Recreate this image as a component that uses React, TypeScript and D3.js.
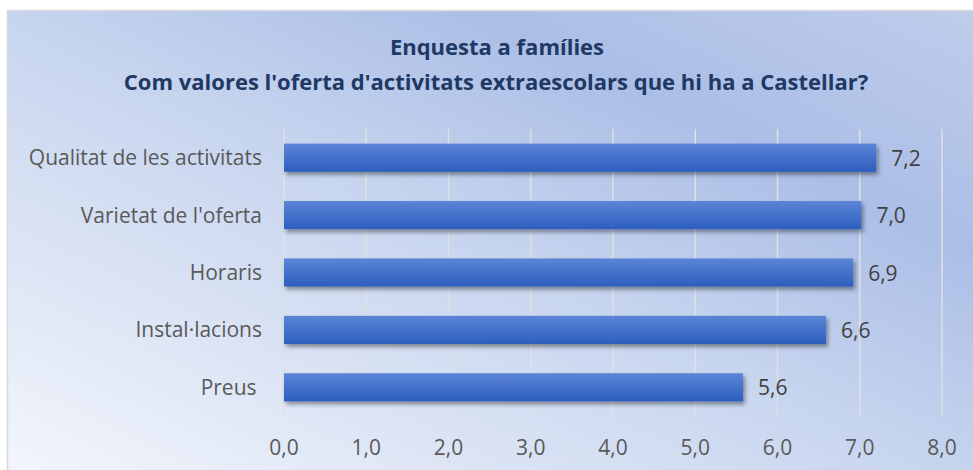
import React from "react";
import * as d3 from "d3";

const title1 = "Enquesta a famílies";
const title2 = "Com valores l'oferta d'activitats extraescolars que hi ha a Castellar?";
const categories = ["Qualitat de les activitats", "Varietat de l'oferta", "Horaris", "Instal·lacions", "Preus "];
const values = [7.2, 7.02, 6.92, 6.59, 5.58];
const xTicks = [0, 1, 2, 3, 4, 5, 6, 7, 8];

const W = 973;
const H = 470;
const FONT = "'Open Sans', 'Noto Sans', sans-serif";

const locale = d3.formatLocale({ decimal: ",", thousands: ".", grouping: [3], currency: ["", "€"] });
const fmt = locale.format(".1f");

export default function App() {
  const x = d3.scaleLinear().domain([0, 8]).range([284, 942]);
  const y = d3.scaleBand<string>().domain(categories).range([129, 416]).paddingInner(0.51).paddingOuter(0.255);
  const bw = y.bandwidth();

  return (
    <svg width={W} height={H} style={{ position: "absolute", left: 0, top: 0 }} fontFamily={FONT}>
      <defs>
        <linearGradient id="bg" x1="0" y1="1" x2="1" y2="0">
          <stop offset="0" stopColor="#f3f6fc" />
          <stop offset="0.5" stopColor="#c6d4ee" />
          <stop offset="0.74" stopColor="#abbee6" />
          <stop offset="1" stopColor="#bfcdeb" />
        </linearGradient>
        <linearGradient id="bar" x1="0" y1="0" x2="0" y2="1">
          <stop offset="0" stopColor="#5b85d6" />
          <stop offset="1" stopColor="#2d5ebf" />
        </linearGradient>
        <filter id="shadow" x="-5%" y="-30%" width="110%" height="180%">
          <feDropShadow dx="2" dy="3" stdDeviation="2" floodColor="#000" floodOpacity="0.4" />
        </filter>
      </defs>
      <rect x={0} y={0} width={W} height={H} fill="#ffffff" />
      <rect x={7.5} y={10.5} width={W} height={H} fill="url(#bg)" stroke="#d9d9d9" strokeWidth={1.5} />
      <text x={497} y={55} textAnchor="middle" fontWeight="bold" fontSize={22} fill="#203864">{title1}</text>
      <text x={496} y={90} textAnchor="middle" fontWeight="bold" fontSize={22} fill="#203864">{title2}</text>
      {xTicks.map((t) => (
        <g key={t}>
          <line x1={x(t)} x2={x(t)} y1={129} y2={416} stroke="#dfe0e3" strokeWidth={1.5} />
          <text x={x(t)} y={455} textAnchor="middle" fontSize={21} fill="#595959">{fmt(t)}</text>
        </g>
      ))}
      {categories.map((c, i) => {
        const cy = (y(c) as number) + bw / 2;
        return (
          <g key={c}>
            <rect x={x(0)} y={y(c)} width={x(values[i]) - x(0)} height={bw} fill="url(#bar)" filter="url(#shadow)" />
            <text x={262} y={cy + 7.5} textAnchor="end" fontSize={21} fill="#595959" style={{ whiteSpace: "pre" }}>{c}</text>
            <text x={x(values[i]) + 15} y={cy + 8} fontSize={21} fill="#404040">{fmt(values[i])}</text>
          </g>
        );
      })}
    </svg>
  );
}
